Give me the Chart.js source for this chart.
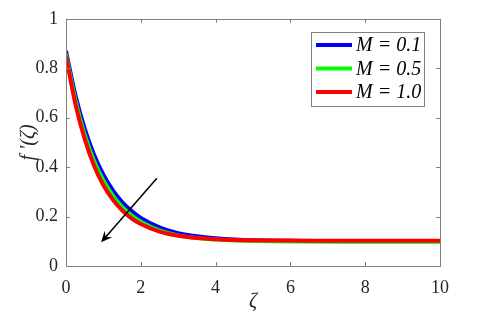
<!DOCTYPE html>
<html>
<head>
<meta charset="utf-8">
<script src="https://cdn.jsdelivr.net/npm/chart.js@4.4.0/dist/chart.umd.min.js"></script>
<style>
html,body{margin:0;padding:0;background:#fff;}
#wrap{width:480px;height:331px;position:relative;}
.pre{font-family:'Liberation Serif';position:absolute;left:-999px;top:-999px;}
</style>
</head>
<body>
<span class="pre">0.8 <i>M = 0.1 ζ</i></span>
<div id="wrap"><canvas id="c" width="480" height="331"></canvas></div>
<script>
// Data
const zeta = [0, 0.25, 0.5, 0.75, 1, 1.25, 1.5, 1.75, 2, 2.5, 3, 3.5, 4, 4.5, 5, 6, 7, 8, 9, 10];
const fM01 = [0.870, 0.692, 0.556, 0.450, 0.369, 0.307, 0.259, 0.223, 0.194, 0.156, 0.133, 0.120, 0.112, 0.107, 0.104, 0.102, 0.101, 0.100, 0.100, 0.100];
const fM05 = [0.858, 0.672, 0.532, 0.426, 0.346, 0.286, 0.239, 0.205, 0.179, 0.144, 0.124, 0.113, 0.107, 0.103, 0.101, 0.099, 0.098, 0.098, 0.098, 0.098];
const fM10 = [0.850, 0.656, 0.513, 0.406, 0.327, 0.269, 0.225, 0.193, 0.170, 0.139, 0.122, 0.113, 0.108, 0.105, 0.104, 0.103, 0.102, 0.102, 0.102, 0.102];
const seriesLabels = ['M = 0.1', 'M = 0.5', 'M = 1.0'];
const seriesColors = ['#0000ff', '#00ff00', '#ff0000'];
const xTicks = [0, 2, 4, 6, 8, 10];
const yTicks = [0, 0.2, 0.4, 0.6, 0.8, 1];
const arrowFrom = {x: 2.43, y: 0.355};
const arrowTo = {x: 0.94, y: 0.096};

const pts = arr => zeta.map((z, i) => ({x: z, y: arr[i]}));
const allSeries = [fM01, fM05, fM10];

const axisColor = '#808080';
const textColor = '#262626';
const serif = "'Liberation Serif', 'DejaVu Serif', serif";

const boxPlugin = {
  id: 'boxPlugin',
  afterDatasetsDraw(chart) {
    const ctx = chart.ctx, a = chart.chartArea;
    const xs = chart.scales.x, ys = chart.scales.y;
    ctx.save();
    // arrow
    const x1 = xs.getPixelForValue(arrowFrom.x), y1 = ys.getPixelForValue(arrowFrom.y);
    const x2 = xs.getPixelForValue(arrowTo.x), y2 = ys.getPixelForValue(arrowTo.y);
    const ang = Math.atan2(y2 - y1, x2 - x1);
    const hl = 11, hw = 5;
    ctx.strokeStyle = '#000'; ctx.fillStyle = '#000'; ctx.lineWidth = 1.5;
    ctx.beginPath();
    ctx.moveTo(x1, y1);
    ctx.lineTo(x2 - Math.cos(ang) * 6, y2 - Math.sin(ang) * 6);
    ctx.stroke();
    ctx.beginPath();
    const bx = x2 - Math.cos(ang) * hl, by = y2 - Math.sin(ang) * hl;
    const nx = -Math.sin(ang), ny = Math.cos(ang);
    ctx.moveTo(x2, y2);
    ctx.lineTo(bx + nx * hw, by + ny * hw);
    ctx.lineTo(x2 - Math.cos(ang) * 7, y2 - Math.sin(ang) * 7);
    ctx.lineTo(bx - nx * hw, by - ny * hw);
    ctx.closePath();
    ctx.fill();

    // axes box
    ctx.strokeStyle = axisColor; ctx.lineWidth = 1;
    ctx.strokeRect(Math.round(a.left) + 0.5, Math.round(a.top) + 0.5,
                   Math.round(a.right - a.left), Math.round(a.bottom - a.top));
    // inward ticks
    const tl = 4;
    ctx.beginPath();
    xTicks.forEach(v => {
      const px = Math.round(xs.getPixelForValue(v)) + 0.5;
      ctx.moveTo(px, a.bottom); ctx.lineTo(px, a.bottom - tl);
      ctx.moveTo(px, a.top); ctx.lineTo(px, a.top + tl);
    });
    yTicks.forEach(v => {
      const py = Math.round(ys.getPixelForValue(v)) + 0.5;
      ctx.moveTo(a.left, py); ctx.lineTo(a.left + tl, py);
      ctx.moveTo(a.right, py); ctx.lineTo(a.right - tl, py);
    });
    ctx.stroke();

    // legend
    const lx = 311, ly = 32, lw = 113, lh = 74;
    ctx.fillStyle = '#fff';
    ctx.fillRect(lx, ly, lw, lh);
    ctx.strokeStyle = axisColor;
    ctx.strokeRect(lx + 0.5, ly + 0.5, lw, lh);
    ctx.font = 'italic 20px ' + serif;
    ctx.textBaseline = 'middle';
    ctx.textAlign = 'left';
    seriesLabels.forEach((lab, i) => {
      const yy = 45 + i * 23.5;
      ctx.strokeStyle = seriesColors[i]; ctx.lineWidth = 4;
      ctx.beginPath(); ctx.moveTo(316, yy); ctx.lineTo(352, yy); ctx.stroke();
      ctx.fillStyle = '#000';
      ctx.fillText(lab, 356, yy + 1);
    });

    // axis titles
    ctx.fillStyle = textColor;
    ctx.font = 'italic 20px ' + serif;
    ctx.textAlign = 'center';
    ctx.textBaseline = 'middle';
    ctx.fillText('\u03B6', (a.left + a.right) / 2, 302);
    ctx.translate(29, (a.top + a.bottom) / 2);
    ctx.rotate(-Math.PI / 2);
    ctx.fillText("f '(\u03B6)", 0, 0);
    ctx.restore();
  }
};

function draw() {
  new Chart(document.getElementById('c'), {
    type: 'line',
    data: {
      datasets: allSeries.map((s, i) => ({
        label: seriesLabels[i],
        data: pts(s),
        borderColor: seriesColors[i],
        backgroundColor: seriesColors[i],
        borderWidth: 4,
        pointRadius: 0,
        cubicInterpolationMode: 'monotone',
        fill: false,
        order: 3 - i
      }))
    },
    options: {
      responsive: false,
      animation: false,
      events: [],
      layout: {padding: {top: 15, right: 40, left: 0, bottom: 0}},
      plugins: {legend: {display: false}, tooltip: {enabled: false}},
      scales: {
        x: {
          type: 'linear', min: 0, max: 10,
          afterFit(s) { s.height = 65; },
          afterBuildTicks(s) { s.ticks = xTicks.map(v => ({value: v})); },
          grid: {display: false, drawTicks: false},
          border: {display: false},
          ticks: {padding: 11, color: textColor, font: {family: serif, size: 18}, maxRotation: 0}
        },
        y: {
          type: 'linear', min: 0, max: 1,
          afterFit(s) { s.width = 66; },
          afterBuildTicks(s) { s.ticks = yTicks.map(v => ({value: v})); },
          grid: {display: false, drawTicks: false},
          border: {display: false},
          ticks: {padding: 8, color: textColor, font: {family: serif, size: 18},
                  callback: v => String(Math.round(v * 10) / 10)}
        }
      }
    },
    plugins: [boxPlugin]
  });
}
Promise.all([
  document.fonts.load("18px 'Liberation Serif'"),
  document.fonts.load("italic 20px 'Liberation Serif'")
]).then(draw, draw);
</script>
</body>
</html>
